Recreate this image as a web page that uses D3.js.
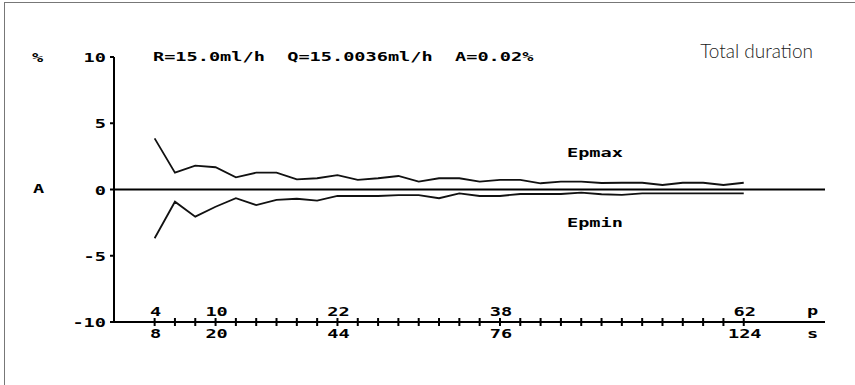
<!DOCTYPE html>
<html>
<head>
<meta charset="utf-8">
<script src="https://cdn.jsdelivr.net/npm/d3@7"></script>
<style>
  body { margin: 0; background: #fff; }
  svg { display: block; }
  .px { font-family: "DejaVu Sans Mono", monospace; font-weight: bold; font-size: 13px; fill: #000; white-space: pre; }
</style>
</head>
<body>
<svg id="chart" width="855" height="385"></svg>
<script>
// measuring points (p) and their durations (s)
const pValues = [4, 6, 8, 10, 12, 14, 16, 18, 20, 22, 24, 26, 28, 30, 32, 34, 36, 38, 40, 42, 44, 46, 48, 50, 52, 54, 56, 58, 60, 62];
const epMax = [3.86, 1.27, 1.8, 1.68, 0.92, 1.27, 1.27, 0.77, 0.85, 1.09, 0.72, 0.85, 1.02, 0.59, 0.85, 0.85, 0.59, 0.72, 0.72, 0.47, 0.59, 0.59, 0.49, 0.51, 0.51, 0.34, 0.51, 0.51, 0.34, 0.51];
const epMin = [-3.68, -0.92, -2.05, -1.3, -0.66, -1.17, -0.79, -0.7, -0.84, -0.49, -0.49, -0.49, -0.42, -0.42, -0.66, -0.3, -0.49, -0.49, -0.34, -0.34, -0.34, -0.24, -0.36, -0.4, -0.29, -0.29, -0.29, -0.29, -0.29, -0.29];
const yTicks = [-10, -5, 0, 5, 10];
const xLabelP = [4, 10, 22, 38, 62];
const xLabelS = [8, 20, 44, 76, 124];
const headerText = "R=15.0ml/h  Q=15.0036ml/h  A=0.02%";

const svg = d3.select("#chart");
const stretch = 1.43; // the old screen font is wide

// frame (only top and left edges show inside the picture)
svg.append("rect")
    .attr("x", 4.5).attr("y", 2.5)
    .attr("width", 900).attr("height", 500)
    .attr("fill", "none")
    .attr("stroke", "#777")
    .attr("stroke-width", 1);

const x = d3.scaleLinear().domain([0, 70]).range([114, 825]);
const y = d3.scaleLinear().domain([-10, 10]).range([322, 57]);

const g = svg.append("g");

function pxText(sel, tx, ty, str, anchor) {
    return sel.append("text")
        .attr("class", "px")
        .attr("transform", "translate(" + tx + "," + ty + ") scale(" + stretch + ",1)")
        .attr("text-anchor", anchor || "start")
        .text(str);
}

// y axis
g.append("line")
    .attr("x1", x(0)).attr("x2", x(0))
    .attr("y1", y(10)).attr("y2", y(-10))
    .attr("stroke", "#000").attr("stroke-width", 2);

g.selectAll(".ytick")
    .data(yTicks)
    .enter()
    .append("line")
    .attr("x1", x(0) - 4).attr("x2", x(0))
    .attr("y1", d => y(d)).attr("y2", d => y(d))
    .attr("stroke", "#000").attr("stroke-width", 2);

yTicks.forEach(d => pxText(g, 106, y(d) + 5, d < 0 ? "-" + Math.abs(d) : String(d), "end"));

// bottom axis and zero line
g.append("line")
    .attr("x1", x(0)).attr("x2", x(70))
    .attr("y1", y(-10)).attr("y2", y(-10))
    .attr("stroke", "#000").attr("stroke-width", 2);

g.append("line")
    .attr("x1", x(0)).attr("x2", x(70))
    .attr("y1", y(0)).attr("y2", y(0))
    .attr("stroke", "#000").attr("stroke-width", 2);

g.selectAll(".xtick")
    .data(pValues)
    .enter()
    .append("line")
    .attr("x1", d => x(d)).attr("x2", d => x(d))
    .attr("y1", y(-10) - 4).attr("y2", y(-10) + 4)
    .attr("stroke", "#000").attr("stroke-width", 2);

xLabelP.forEach(d => pxText(g, x(d) + 1, 316, String(d), "middle"));
xLabelS.forEach((d, i) => pxText(g, x(xLabelP[i]) + 1, 338, String(d), "middle"));

pxText(g, 807, 315, "p");
pxText(g, 807, 338, "s");
pxText(g, 32, 62, "%");
pxText(g, 33, 193, "A");

// header
pxText(g, 153, 61, headerText);

svg.append("text")
    .attr("x", 813).attr("y", 58)
    .attr("text-anchor", "end")
    .style("font-family", "Lato, 'Open Sans', sans-serif")
    .style("font-weight", 300)
    .style("font-size", "19px")
    .style("fill", "#222")
    .text("Total duration");

// error curves
const line = d3.line()
    .x((d, i) => x(pValues[i]))
    .y(d => y(d));

g.append("path")
    .datum(epMax)
    .attr("d", line)
    .attr("fill", "none")
    .attr("stroke", "#111")
    .attr("stroke-width", 1.8);

g.append("path")
    .datum(epMin)
    .attr("d", line)
    .attr("fill", "none")
    .attr("stroke", "#111")
    .attr("stroke-width", 1.8);

pxText(g, 567, 157, "Epmax");
pxText(g, 567, 227, "Epmin");
</script>
</body>
</html>
